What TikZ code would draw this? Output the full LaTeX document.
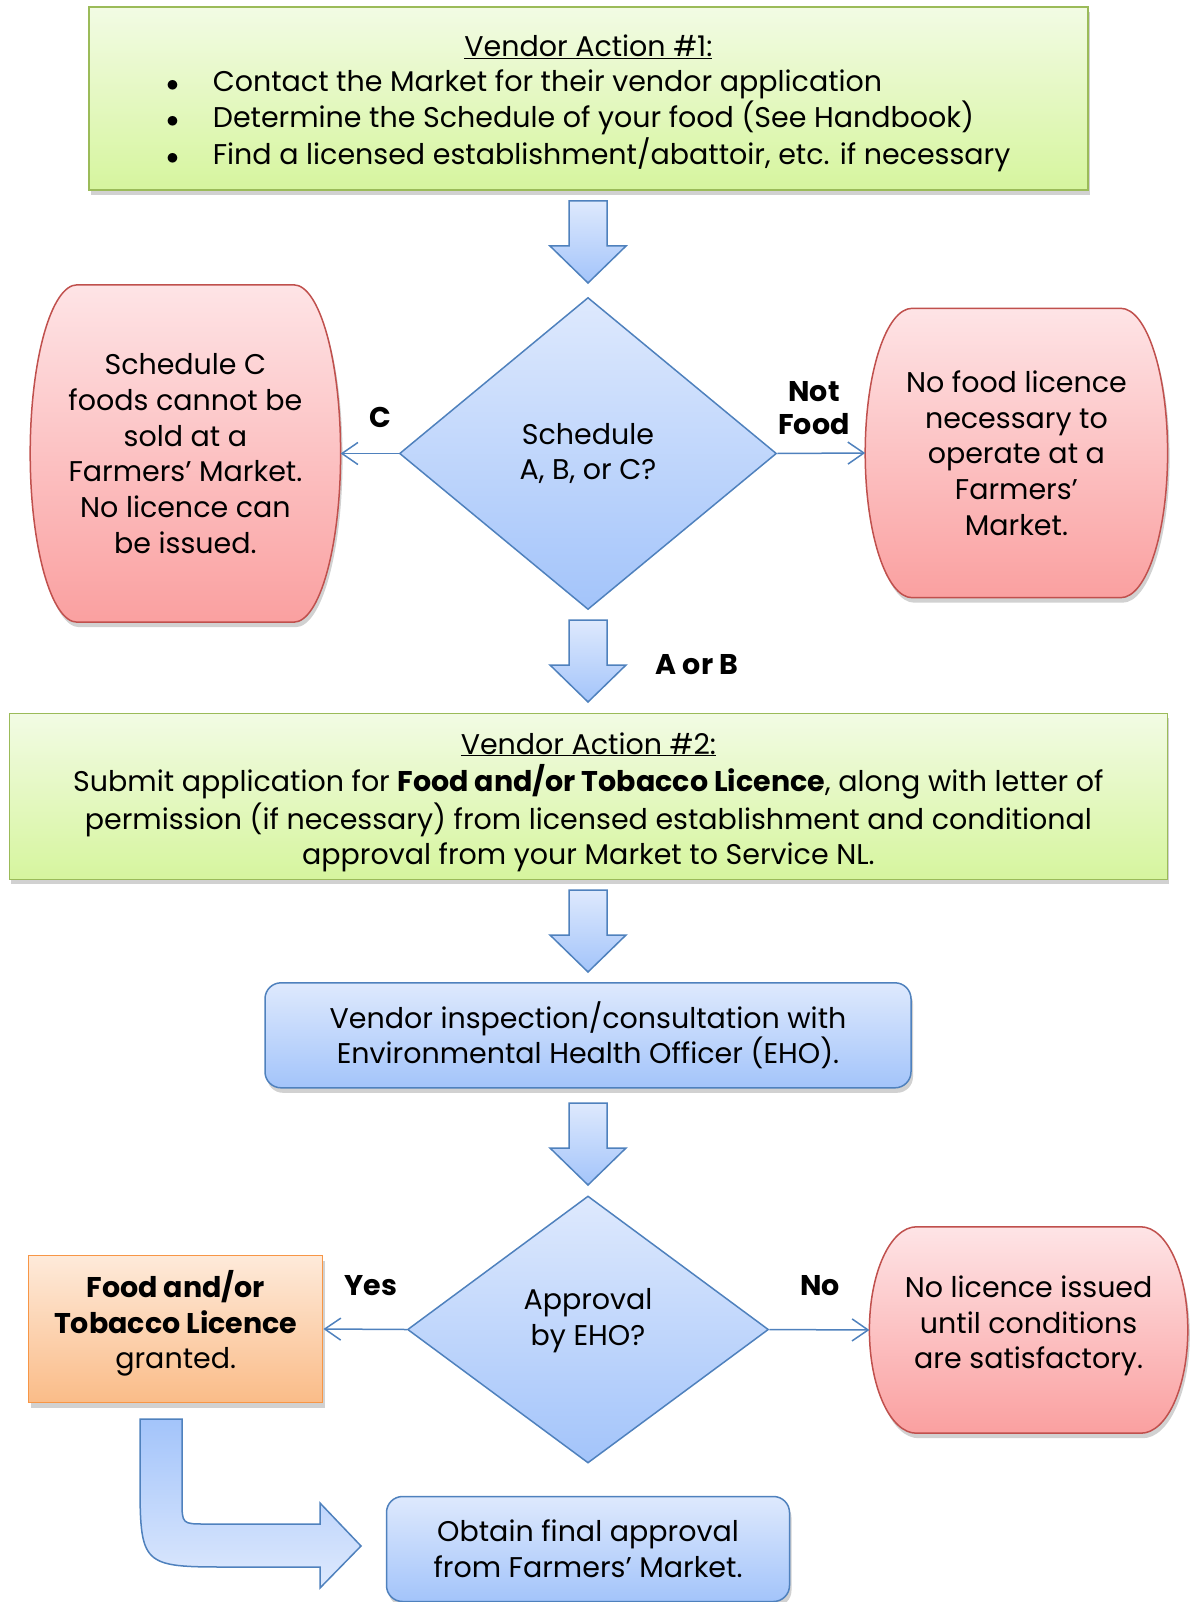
\documentclass[tikz,border=0pt]{standalone}
\usepackage{fontspec}
\setmainfont{Poppins}
\usetikzlibrary{shapes.geometric,calc,shadows,arrows.meta,backgrounds}

\definecolor{greenline}{RGB}{155,187,89}
\definecolor{greentop}{RGB}{242,251,228}
\definecolor{greenbot}{RGB}{214,245,158}
\definecolor{redline}{RGB}{192,80,77}
\definecolor{redtop}{RGB}{254,228,230}
\definecolor{redbot}{RGB}{250,160,160}
\definecolor{blueline}{RGB}{79,129,189}
\definecolor{bluetop}{RGB}{222,233,253}
\definecolor{bluebot}{RGB}{163,196,250}
\definecolor{orangeline}{RGB}{247,150,70}
\definecolor{orangetop}{RGB}{254,234,218}
\definecolor{orangebot}{RGB}{250,188,136}

\tikzset{
  boxshadow/.style={drop shadow={shadow xshift=2pt,shadow yshift=-5pt,opacity=0.18,fill=black}},
  greenbox/.style={rectangle, draw=greenline, line width=1.5pt, top color=greentop, bottom color=greenbot, boxshadow, align=center, inner sep=0pt},
  bluebox/.style={rectangle, rounded corners=16pt, draw=blueline, line width=1.5pt, top color=bluetop, bottom color=bluebot, boxshadow, align=center, inner sep=0pt},
  orangebox/.style={rectangle, draw=orangeline, line width=1.5pt, top color=orangetop, bottom color=orangebot, boxshadow, align=center, inner sep=0pt},
  redtext/.style={rectangle, align=center, inner sep=0pt},
  decision/.style={diamond, draw=blueline, line width=1.5pt, top color=bluetop, bottom color=bluebot, align=center, inner sep=0pt},
  choice/.style={draw=blueline, line width=1.5pt, -{Straight Barb[length=16pt,width=22pt]}},
  lbl/.style={font=\fontsize{28.5}{33}\selectfont\bfseries, align=center},
  blockdown/.pic={
    \path[draw=blueline, line width=1.5pt, top color=bluetop, bottom color=bluebot]
      (-19,0) -- (19,0) -- (19,45) -- (38,45) -- (0,82) -- (-38,45) -- (-19,45) -- cycle;
  }
}

% red box outline with bulging sides, drawn round a named node
\newcommand\bulge[1]{%
  \path[draw=redline, line width=1.5pt, top color=redtop, bottom color=redbot, boxshadow]
    let \p1=(#1.north west), \p2=(#1.south east), \n1={(\y1-\y2)/2} in
    (\x1+47pt,\y1) -- (\x2-47pt,\y1)
    arc[start angle=90, end angle=-90, x radius=47pt, y radius=\n1]
    -- (\x1+47pt,\y2)
    arc[start angle=270, end angle=90, x radius=47pt, y radius=\n1] -- cycle;}
% text lines moved up (+) or down (-) inside their box
\newcommand\lift[2]{\raisebox{#1}[\height][\depth]{\begin{tabular}{@{}c@{}}#2\end{tabular}}}

\begin{document}
\begin{tikzpicture}[x=1pt,y=-1pt,font=\fontsize{28.5}{35.7}\selectfont]
  \useasboundingbox (0,0) rectangle (1189,1602);

  % vendor action 1
  \node[greenbox, minimum width=999pt, minimum height=183pt] (act1) at (588.4,98.6)
    {\raisebox{-5pt}[\height][\depth]{\begin{tabular}{@{}c@{\hspace{34pt}}l@{}}
       \multicolumn{2}{c}{\underline{Vendor Action \#1:}}\\[-1pt]
       $\bullet$ & Contact the Market for their vendor application\\[-1pt]
       $\bullet$ & Determine the Schedule of your food (See Handbook)\\[-1pt]
       $\bullet$ & Find a licensed establishment/abattoir, etc. if necessary
     \end{tabular}}};
  \pic at (588,201) {blockdown};

  % first decision
  \node[decision, minimum width=377pt, minimum height=312pt] (dec1) at (588,453.5) {Schedule\\A, B, or C?};
  \node[redtext, minimum width=310pt, minimum height=337pt] (schedc) at (185.4,453.5)
    {Schedule C\\foods cannot be\\sold at a\\Farmers' Market.\\No licence can\\be issued.};
  \node[redtext, minimum width=302pt, minimum height=289pt] (nofood) at (1016.4,453)
    {No food licence\\necessary to\\operate at a\\Farmers'\\Market.};
  \begin{pgfonlayer}{background}
    \bulge{schedc}
    \bulge{nofood}
  \end{pgfonlayer}
  \draw[choice] (dec1.west) -- (schedc.east);
  \draw[choice] (dec1.east) -- (nofood.west);
  \node[lbl] (lc) at (380,417) {C};
  \node[lbl] (lnot) at (814,408) {Not\\Food};

  \pic at (588,620) {blockdown};
  \node[lbl] (lab) at (697,665) {A or B};

  % vendor action 2
  \node[greenbox, minimum width=1158pt, minimum height=166pt] (act2) at (588.4,796.3)
    {\lift{-6pt}{\underline{Vendor Action \#2:}\\
     Submit application for \textbf{Food and/or Tobacco Licence}, along with letter of\\
     permission (if necessary) from licensed establishment and conditional\\
     approval from your Market to Service NL.}};
  \pic at (588,890) {blockdown};

  \node[bluebox, minimum width=646pt, minimum height=105pt] (eho) at (588,1035.3)
    {Vendor inspection/consultation with\\Environmental Health Officer (EHO).};
  \pic at (588,1103) {blockdown};

  % second decision
  \node[decision, minimum width=361pt, minimum height=267pt] (dec2) at (588,1329.5)
    {\lift{9pt}{Approval\\by EHO?}};
  \node[orangebox, minimum width=294pt, minimum height=147pt] (granted) at (175.7,1329)
    {\lift{4pt}{\textbf{Food and/or}\\\textbf{Tobacco Licence}\\granted.}};
  \node[redtext, minimum width=318pt, minimum height=206pt] (nolic) at (1028.6,1330)
    {\lift{4pt}{No licence issued\\until conditions\\are satisfactory.}};
  \begin{pgfonlayer}{background}
    \bulge{nolic}
  \end{pgfonlayer}
  \draw[choice] (dec2.west) -- (granted.east);
  \draw[choice] (dec2.east) -- (nolic.west);
  \node[lbl] (lyes) at (371,1286) {Yes};
  \node[lbl] (lno) at (820,1286) {No};

  % bent arrow to the final step
  \path[draw=blueline, line width=1.5pt, top color=bluebot, bottom color=bluetop]
    (140,1419) -- (182,1419) -- (182,1500) .. controls (182,1524) .. (206,1524)
    -- (320,1524) -- (320,1503) -- (361,1546) -- (320,1588) -- (320,1567)
    -- (232,1567) .. controls (140,1567) .. (140,1475) -- cycle;
  \node[bluebox, minimum width=403pt, minimum height=105pt] (final) at (588,1549)
    {Obtain final approval\\from Farmers' Market.};
\end{tikzpicture}
\end{document}
